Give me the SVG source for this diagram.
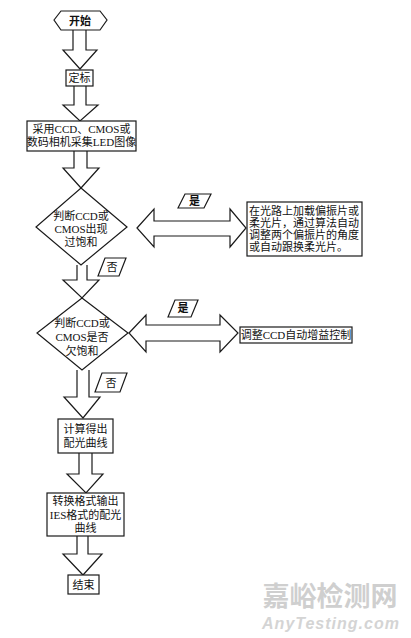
<svg xmlns="http://www.w3.org/2000/svg" width="411" height="638" viewBox="0 0 411 638">
<style>
.s{fill:#fff;stroke:#1a1a1a;stroke-width:1.2;stroke-linejoin:miter}
.t{font-family:"Liberation Serif","Noto Sans CJK SC",serif;font-size:11px;fill:#111;text-anchor:middle}
.l{text-anchor:start}
.wm{font-family:"Noto Sans CJK SC",sans-serif;font-size:27px;font-weight:bold;fill:#cfcfcf;text-anchor:middle}
.wm2{font-family:"Liberation Sans",sans-serif;font-size:16px;font-weight:bold;font-style:italic;fill:#d4d4d4;text-anchor:middle;letter-spacing:1px}
</style>
<rect width="411" height="638" fill="#fff"/>
<g id="connectors">
<path class="s" d="M73,30 L73,50 L63,50 L80,69 L97,50 L86,50 L86,30"/>
<path class="s" d="M74,86 L74,105 L63,105 L80,121 L98,105 L86,105 L86,86"/>
<path class="s" d="M74,151 L74,168 L63,168 L81,188 L99,168 L87,168 L87,151"/>
<path class="s" d="M77,265 L77,280 L63,280 L82,298 L99,280 L87,280 L87,265"/>
<path class="s" d="M77,370 L77,397 L64,397 L83,418 L100,397 L89,397 L89,370"/>
<path class="s" d="M79,453 L79,474 L67,474 L86,493 L103,474 L92,474 L92,453"/>
<path class="s" d="M77,536 L77,554 L63,554 L83,575 L102,554 L88,554 L88,536"/>
<path class="s" d="M137,228 L154,209 L154,221 L230,221 L230,209 L246,228 L230,247 L230,236 L154,236 L154,247 Z"/>
<path class="s" d="M129,333 L146,315 L146,325 L220,325 L220,315 L238,333 L220,352 L220,341 L146,341 L146,352 Z"/>
</g>
<g id="start">
<polygon class="s" points="54,20 61,11 100,11 107,20 100,30 61,30"/>
<text class="t" x="80" y="24.5" font-weight="bold">开始</text>
</g>
<g id="calib">
<rect class="s" x="66" y="70" width="27" height="16"/>
<text class="t" x="79.5" y="82">定标</text>
</g>
<g id="capture">
<rect class="s" x="27" y="121" width="109" height="30"/>
<text class="t" x="81.5" y="133" font-size="10.5">采用CCD、CMOS或</text>
<text class="t" x="81.5" y="146" font-size="10.5">数码相机采集LED图像</text>
</g>
<g id="dec1">
<polygon class="s" points="81,188 127,227 81,265 36,227"/>
<text class="t" x="81" y="220">判断CCD或</text>
<text class="t" x="81" y="233">CMOS出现</text>
<text class="t" x="81" y="246">过饱和</text>
</g>
<g id="yes1">
<polygon class="s" points="178,208 185,194 211,194 204,208"/>
<text class="t" x="194.5" y="205" font-weight="bold">是</text>
</g>
<g id="fix1">
<rect class="s" x="247" y="202" width="115" height="54"/>
<text class="t l" x="249" y="215">在光路上加载偏振片或</text>
<text class="t l" x="249" y="227">柔光片，通过算法自动</text>
<text class="t l" x="249" y="239">调整两个偏振片的角度</text>
<text class="t l" x="249" y="251">或自动跟换柔光片。</text>
</g>
<g id="no1">
<polygon class="s" points="98,276 105,258 126,258 119,276"/>
<text class="t" x="112" y="271">否</text>
</g>
<g id="dec2">
<polygon class="s" points="82,298 128,333 82,370 37,333"/>
<text class="t" x="82" y="327">判断CCD或</text>
<text class="t" x="82" y="341">CMOS是否</text>
<text class="t" x="82" y="355">欠饱和</text>
</g>
<g id="yes2">
<polygon class="s" points="168,317 175,300 198,300 191,317"/>
<text class="t" x="183" y="312" font-weight="bold">是</text>
</g>
<g id="fix2">
<rect class="s" x="240" y="327" width="112" height="16"/>
<text class="t" x="296" y="339">调整CCD自动增益控制</text>
</g>
<g id="no2">
<polygon class="s" points="95,392 102,373 127,373 120,392"/>
<text class="t" x="111" y="386.5">否</text>
</g>
<g id="compute">
<rect class="s" x="58" y="419" width="55" height="34"/>
<text class="t" x="85.5" y="433">计算得出</text>
<text class="t" x="85.5" y="447">配光曲线</text>
</g>
<g id="convert">
<rect class="s" x="47" y="493" width="77" height="43"/>
<text class="t" x="85.5" y="505">转换格式输出</text>
<text class="t" x="85.5" y="519">IES格式的配光</text>
<text class="t" x="85.5" y="532">曲线</text>
</g>
<g id="end">
<rect class="s" x="68" y="575" width="31" height="19"/>
<text class="t" x="83.5" y="588.5">结束</text>
</g>
<g id="watermark">
<text class="wm" x="330" y="606">嘉峪检测网</text>
<text class="wm2" x="331" y="629">AnyTesting.com</text>
</g>
</svg>
